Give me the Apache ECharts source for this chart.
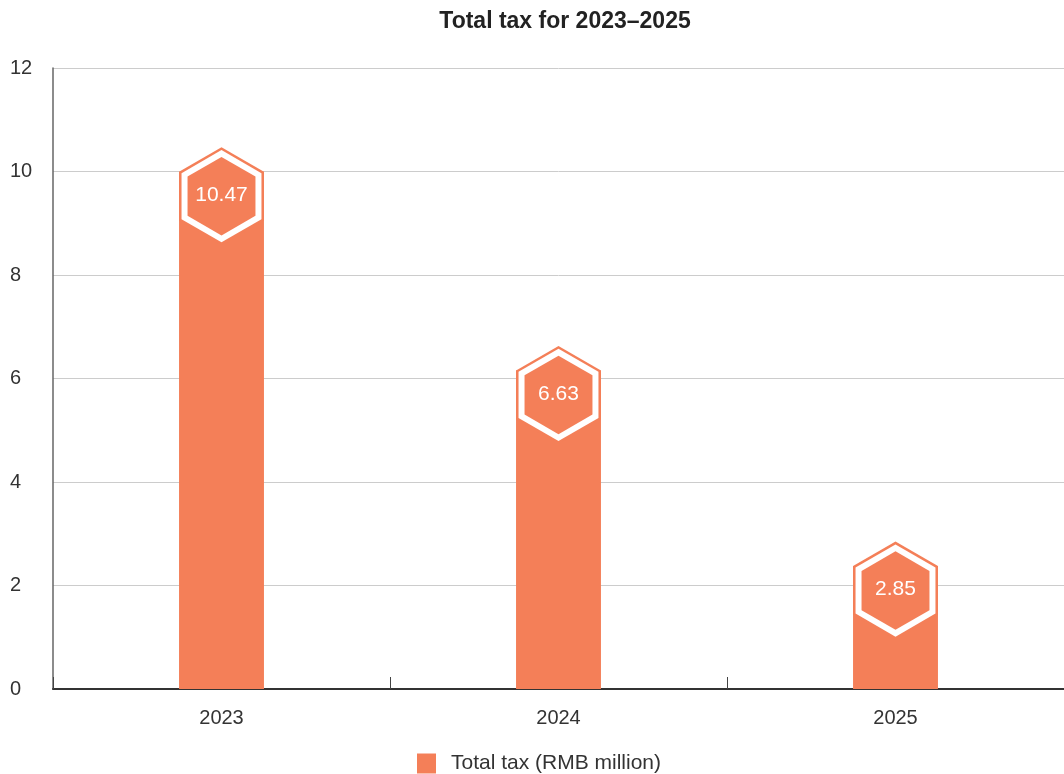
<!DOCTYPE html>
<html>
<head>
<meta charset="utf-8">
<title>Total tax for 2023–2025</title>
<script src="https://cdn.jsdelivr.net/npm/echarts@6/dist/echarts.min.js"></script>
<style>
  html, body { margin: 0; padding: 0; background: #fff; }
  #chart { width: 1064px; height: 774px; }
</style>
</head>
<body>
<div id="chart"></div>
<script>
// data
var years = ['2023', '2024', '2025'];
var totalTax = [10.47, 6.63, 2.85];
var seriesName = 'Total tax (RMB million)';
var yMin = 0, yMax = 12, yStep = 2;

var ORANGE = '#F47F58';
var FONT = '"Liberation Sans", Arial, sans-serif';

// pointy-top hexagon around (cx, cy), half width hw
function hexPoints(cx, cy, hw) {
    var r = hw / Math.cos(Math.PI / 6);
    return [
        [cx, cy - r], [cx + hw, cy - r / 2], [cx + hw, cy + r / 2],
        [cx, cy + r], [cx - hw, cy + r / 2], [cx - hw, cy - r / 2]
    ];
}

function renderBar(params, api) {
    var idx = api.value(0);
    var val = api.value(1);
    var top = api.coord([idx, val]);
    var base = api.coord([idx, 0]);
    var hw = api.size([1, 0])[0] * 0.252 / 2;   // bar half width
    var r = hw / Math.cos(Math.PI / 6);
    var cx = top[0], cy = top[1] + r;            // hexagon tip sits on the value
    var barTop = cy - r / 2;
    return {
        type: 'group',
        children: [
            { type: 'rect', shape: { x: cx - hw, y: barTop, width: hw * 2, height: base[1] - barTop },
              style: { fill: ORANGE } },
            { type: 'polygon', shape: { points: hexPoints(cx, cy, hw) }, style: { fill: ORANGE } },
            { type: 'polygon', shape: { points: hexPoints(cx, cy, hw - 2.5) }, style: { fill: '#fff' } },
            { type: 'polygon', shape: { points: hexPoints(cx, cy, hw - 8.5) }, style: { fill: ORANGE } },
            { type: 'text', x: cx, y: cy - 1,
              style: { text: String(val), fill: '#fff', font: '21px ' + FONT,
                       align: 'center', verticalAlign: 'middle' } }
        ]
    };
}

var chart = echarts.init(document.getElementById('chart'));
var option = {
    animation: false,
    title: {
        text: 'Total tax for 2023\u20132025',
        left: 560, top: 5, textAlign: 'center',
        textStyle: { fontFamily: FONT, fontSize: 23, fontWeight: 'bold', color: '#222' }
    },
    legend: {
        left: 417, top: 753, padding: 0,
        itemWidth: 19, itemHeight: 20, itemGap: 10,
        textStyle: { fontFamily: FONT, fontSize: 21, color: '#333', padding: [0, 0, 0, 10] },
        data: [{ name: seriesName, icon: 'rect' }]
    },
    grid: { left: 53, right: 0, top: 68, bottom: 85 },
    xAxis: {
        type: 'category',
        data: years,
        axisLine: { lineStyle: { color: '#333', width: 2 } },
        axisTick: { show: true, inside: true, length: 12, lineStyle: { color: '#444', width: 1 } },
        axisLabel: { margin: 19, fontFamily: FONT, fontSize: 20, color: '#333' }
    },
    yAxis: {
        type: 'value',
        min: yMin, max: yMax, interval: yStep,
        axisLine: { show: true, lineStyle: { color: '#666', width: 1.5 } },
        axisTick: { show: false },
        axisLabel: {
            margin: 43, align: 'left', fontFamily: FONT, fontSize: 20, color: '#333',
            padding: [0, 0, 8, 0]
        },
        splitLine: { lineStyle: { color: '#ccc', width: 1 } }
    },
    series: [{
        name: seriesName,
        type: 'custom',
        itemStyle: { color: ORANGE },
        renderItem: renderBar,
        encode: { x: 0, y: 1 },
        data: years.map(function (y, i) { return [i, totalTax[i]]; }),
        z: 3
    }]
};
chart.setOption(option);
</script>
</body>
</html>
